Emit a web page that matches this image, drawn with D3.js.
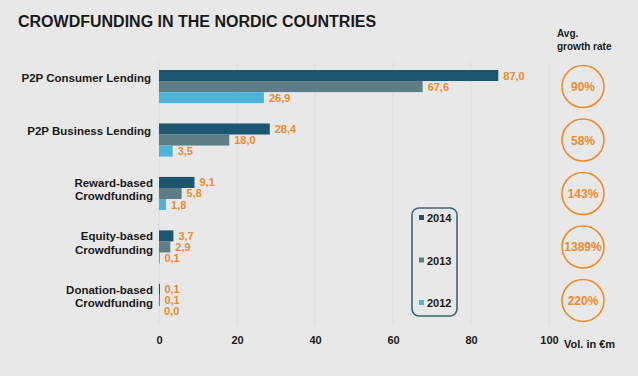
<!DOCTYPE html>
<html>
<head>
<meta charset="utf-8">
<script src="https://cdn.jsdelivr.net/npm/d3@7"></script>
<style>
  body { margin: 0; background: #e8e8e8; }
  svg { display: block; font-family: Arial, "Liberation Sans", sans-serif; }
</style>
</head>
<body>
<script>
// chart data
var categories = ["P2P Consumer Lending", "P2P Business Lending", "Reward-based\nCrowdfunding", "Equity-based\nCrowdfunding", "Donation-based\nCrowdfunding"];
var years = ["2014", "2013", "2012"];
var values2014 = [87.0, 28.4, 9.1, 3.7, 0.1];
var values2013 = [67.6, 18.0, 5.8, 2.9, 0.1];
var values2012 = [26.9, 3.5, 1.8, 0.1, 0.0];
var growthRates = ["90%", "58%", "143%", "1389%", "220%"];
var xTicks = [0, 20, 40, 60, 80, 100];

(function(){
  var width = 638, height = 376;
  var colors = { "2014": "#1c5670", "2013": "#5f7d87", "2012": "#4db3da" };
  var orange = "#f08a2c";
  var dark = "#1a1a1a";
  var series = { "2014": values2014, "2013": values2013, "2012": values2012 };

  var svg = d3.select("body").append("svg")
      .attr("width", width)
      .attr("height", height);

  svg.append("rect").attr("width", width).attr("height", height).attr("fill", "#e8e8e8");

  var x = d3.scaleLinear().domain([0, 100]).range([159, 549]);
  var y0 = d3.scaleBand().domain(categories).range([70, 317]).paddingInner(0.38);
  var y1 = d3.scaleBand().domain(years).range([0, y0.bandwidth()]);

  // title
  svg.append("text")
      .attr("x", 18).attr("y", 27)
      .attr("font-size", 16).attr("font-weight", "bold").attr("fill", dark)
      .text("CROWDFUNDING IN THE NORDIC COUNTRIES");

  // faint grid
  svg.append("g").selectAll("line").data(xTicks).join("line")
      .attr("x1", d => x(d)).attr("x2", d => x(d))
      .attr("y1", 62).attr("y2", 326)
      .attr("stroke", "#dcdcdc").attr("stroke-width", 1);

  // x axis labels
  var axis = d3.axisBottom(x).tickValues(xTicks).tickSize(0).tickPadding(0);
  var gx = svg.append("g").attr("transform", "translate(0,336)").call(axis);
  gx.select(".domain").remove();
  gx.selectAll("text")
      .attr("font-size", 11).attr("font-weight", "bold").attr("fill", dark)
      .attr("font-family", "Arial, 'Liberation Sans', sans-serif");

  svg.append("text")
      .attr("x", 564).attr("y", 348)
      .attr("font-size", 11).attr("font-weight", "bold").attr("fill", dark)
      .text("Vol. in €m");

  // bar groups
  var groups = svg.append("g").selectAll("g").data(categories).join("g")
      .attr("transform", d => "translate(0," + y0(d) + ")");

  groups.selectAll("rect").data((c, i) => years.map(yr => ({ year: yr, value: series[yr][i] })))
    .join("rect")
      .attr("x", x(0))
      .attr("y", d => y1(d.year))
      .attr("width", d => Math.max(x(d.value) - x(0), d.value > 0 ? 1 : 0))
      .attr("height", y1.bandwidth())
      .attr("fill", d => colors[d.year]);

  groups.selectAll("text.val").data((c, i) => years.map(yr => ({ year: yr, value: series[yr][i] })))
    .join("text")
      .attr("class", "val")
      .attr("x", d => x(d.value) + 5)
      .attr("y", d => y1(d.year) + y1.bandwidth() / 2 + 4)
      .attr("font-size", 11).attr("font-weight", "bold").attr("fill", orange)
      .text(d => d3.format(".1f")(d.value).replace(".", ","));

  // category labels
  groups.each(function(c){
    var lines = c.split("\n");
    var t = d3.select(this).append("text")
        .attr("text-anchor", "end")
        .attr("font-size", 11.5).attr("font-weight", "bold").attr("fill", dark);
    lines.forEach((ln, j) => {
      t.append("tspan")
        .attr("x", lines.length > 1 ? 153 : 151)
        .attr("y", (lines.length > 1 ? 10 : 12) + j * 13.5)
        .text(ln);
    });
  });

  // growth rate circles
  svg.append("text").attr("x", 557).attr("y", 37)
      .attr("font-size", 10).attr("font-weight", "bold").attr("fill", dark).text("Avg.");
  svg.append("text").attr("x", 557).attr("y", 50)
      .attr("font-size", 10).attr("font-weight", "bold").attr("fill", dark).text("growth rate");

  var circ = svg.append("g").selectAll("g").data(categories).join("g")
      .attr("transform", d => "translate(583," + (y0(d) + y0.bandwidth() / 2) + ")");
  circ.append("circle").attr("r", 21)
      .attr("fill", "none").attr("stroke", orange).attr("stroke-width", 1.6);
  circ.append("text")
      .attr("text-anchor", "middle").attr("y", 4.5)
      .attr("font-size", 12).attr("font-weight", "bold").attr("fill", orange)
      .text((d, i) => growthRates[i]);

  // legend
  var legend = svg.append("g");
  legend.append("rect")
      .attr("x", 412).attr("y", 208).attr("width", 45).attr("height", 108)
      .attr("rx", 7).attr("fill", "none")
      .attr("stroke", "#3f6474").attr("stroke-width", 1.6);
  var ly = d3.scalePoint().domain(years).range([218, 303]);
  var li = legend.selectAll("g").data(years).join("g")
      .attr("transform", d => "translate(0," + ly(d) + ")");
  li.append("rect").attr("x", 419).attr("y", -3).attr("width", 5).attr("height", 5)
      .attr("fill", d => colors[d]);
  li.append("text").attr("x", 427).attr("y", 4)
      .attr("font-size", 11).attr("font-weight", "bold").attr("fill", dark)
      .text(d => d);
})();
</script>
</body>
</html>
